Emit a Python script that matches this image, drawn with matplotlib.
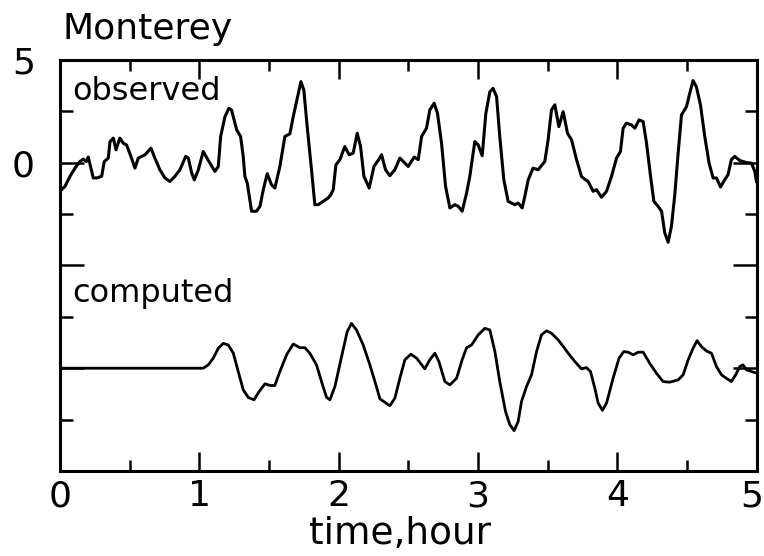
import matplotlib.pyplot as plt
from matplotlib.ticker import MultipleLocator
from matplotlib.transforms import ScaledTranslation

# observed record (time in hours, level)
obs_t = [0.0, 0.036, 0.072, 0.108, 0.143, 0.167, 0.19, 0.203, 0.239, 0.263, 0.299,
         0.318, 0.347, 0.359, 0.383, 0.402, 0.43, 0.454, 0.478, 0.509, 0.538, 0.562,
         0.61, 0.653, 0.681, 0.717, 0.753, 0.789, 0.825, 0.861, 0.902, 0.921, 0.945,
         0.964, 0.993, 1.028, 1.069, 1.112, 1.136, 1.153, 1.184, 1.212, 1.231, 1.268,
         1.296, 1.315, 1.327, 1.344, 1.375, 1.411, 1.435, 1.459, 1.487, 1.518, 1.542,
         1.578, 1.614, 1.65, 1.674, 1.705, 1.729, 1.75, 1.774, 1.805, 1.829, 1.853,
         1.889, 1.925, 1.944, 1.961, 1.98, 2.009, 2.044, 2.075, 2.104, 2.133, 2.157,
         2.181, 2.219, 2.253, 2.283, 2.308, 2.336, 2.367, 2.403, 2.439, 2.487, 2.499,
         2.542, 2.571, 2.595, 2.63, 2.654, 2.685, 2.709, 2.738, 2.767, 2.798, 2.834,
         2.858, 2.886, 2.918, 2.941, 2.977, 3.001, 3.03, 3.056, 3.085, 3.108, 3.133,
         3.156, 3.185, 3.216, 3.264, 3.288, 3.317, 3.341, 3.36, 3.395, 3.431, 3.479,
         3.503, 3.527, 3.551, 3.58, 3.611, 3.642, 3.671, 3.707, 3.742, 3.754, 3.79,
         3.826, 3.85, 3.886, 3.922, 3.958, 3.994, 4.022, 4.041, 4.065, 4.101, 4.125,
         4.156, 4.185, 4.209, 4.238, 4.262, 4.292, 4.317, 4.34, 4.364, 4.388, 4.412,
         4.436, 4.46, 4.496, 4.519, 4.543, 4.567, 4.596, 4.627, 4.658, 4.687, 4.711,
         4.74, 4.77, 4.794, 4.818, 4.842, 4.878, 4.926, 4.962, 4.986, 4.998]
obs_v = [-1.39, -1.15, -0.66, -0.26, 0.06, 0.18, 0.06, 0.28, -0.74, -0.74, -0.66,
         0.06, 0.23, 1.03, 1.2, 0.63, 1.2, 0.95, 0.87, 0.31, -0.26, 0.23,
         0.39, 0.71, 0.23, -0.34, -0.74, -0.91, -0.66, -0.34, 0.31, 0.23, -0.5,
         -0.83, -0.34, 0.55, 0.06, -0.42, -0.18, 1.28, 2.25, 2.65, 2.57, 1.6,
         1.28, 0.31, -0.66, -0.99, -2.36, -2.36, -2.12, -1.31, -0.53, -1.07, -1.23,
         -0.18, 1.28, 1.41, 2.25, 3.22, 3.95, 3.54, 1.76, -0.34, -2.04, -2.04,
         -1.88, -1.71, -1.55, -1.31, -0.1, 0.15, 0.79, 0.39, 0.47, 1.44, 0.79,
         -0.66, -1.23, -0.18, 0.11, 0.39, -0.34, -0.63, -0.34, 0.23, -0.1, -0.18,
         0.28, 0.15, 1.28, 1.68, 2.57, 2.9, 2.41, 0.96, -1.15, -2.2, -2.04,
         -2.12, -2.36, -1.47, -0.66, 1.03, 0.87, 0.34, 2.41, 3.46, 3.62, 3.22,
         1.28, -0.83, -1.88, -2.04, -1.96, -2.2, -1.47, -0.83, -0.26, -0.34, 0.06,
         1.12, 2.57, 2.82, 1.76, 2.49, 1.44, 1.12, 0.15, -0.66, -0.74, -0.91,
         -1.39, -1.31, -1.68, -1.39, -0.66, 0.23, 0.55, 1.68, 1.93, 1.84, 1.68,
         2.09, 2.0, 0.96, -0.66, -1.88, -2.12, -2.36, -3.41, -3.87, -3.09, -1.55,
         0.47, 2.33, 2.73, 3.38, 4.0, 3.7, 2.82, 1.28, -0.02, -0.74, -0.74,
         -1.18, -0.83, -0.58, 0.15, 0.31, 0.11, 0.01, -0.02, -0.42, -0.91]

# computed record
com_t = [0.0, 1.028, 1.064, 1.1, 1.136, 1.172, 1.208, 1.244, 1.279, 1.315, 1.351,
         1.392, 1.43, 1.471, 1.507, 1.542, 1.578, 1.626, 1.674, 1.722, 1.757, 1.793,
         1.841, 1.884, 1.913, 1.937, 1.973, 2.021, 2.061, 2.092, 2.128, 2.176, 2.224,
         2.26, 2.296, 2.367, 2.403, 2.439, 2.475, 2.518, 2.559, 2.618, 2.654, 2.69,
         2.719, 2.762, 2.798, 2.846, 2.886, 2.918, 2.954, 3.001, 3.049, 3.085, 3.121,
         3.156, 3.197, 3.228, 3.259, 3.288, 3.312, 3.348, 3.384, 3.42, 3.455, 3.491,
         3.527, 3.575, 3.618, 3.647, 3.694, 3.742, 3.778, 3.807, 3.838, 3.862, 3.893,
         3.922, 3.969, 4.012, 4.046, 4.077, 4.113, 4.149, 4.185, 4.232, 4.28, 4.328,
         4.376, 4.436, 4.472, 4.508, 4.543, 4.572, 4.603, 4.639, 4.675, 4.711, 4.747,
         4.782, 4.818, 4.849, 4.878, 4.902, 4.926, 4.962, 4.998]
com_v = [0.0, 0.0, 0.16, 0.49, 0.97, 1.21, 1.13, 0.73, -0.16, -1.05, -1.42,
         -1.54, -1.13, -0.76, -0.84, -0.84, -0.16, 0.65, 1.18, 1.0, 1.0, 0.73,
         0.16, -0.81, -1.42, -1.54, -0.89, 0.57, 1.78, 2.18, 1.86, 1.13, 0.16,
         -0.65, -1.49, -1.83, -1.46, -0.49, 0.41, 0.68, 0.49, -0.03, 0.41, 0.73,
         0.33, -0.65, -0.81, -0.49, 0.41, 1.0, 1.13, 1.62, 1.94, 1.86, 0.81,
         -0.65, -2.1, -2.75, -3.04, -2.59, -1.62, -0.89, -0.32, 0.81, 1.62, 1.82,
         1.7, 1.38, 1.0, 0.73, 0.33, -0.03, 0.03, -0.16, -0.97, -1.7, -2.05,
         -1.7, -0.49, 0.49, 0.81, 0.78, 0.65, 0.78, 0.78, 0.24, -0.24, -0.65,
         -0.68, -0.57, -0.32, 0.41, 0.97, 1.34, 1.05, 0.84, 0.73, 0.08, -0.32,
         -0.49, -0.65, -0.32, 0.08, 0.16, -0.08, -0.16, -0.24]
com_offset = -10

xticks = [0, 1, 2, 3, 4, 5]
yticks = [5, 0, -5, -10, -15]
ytick_labels = ['5', '0', '', '', '']

fig = plt.figure(figsize=(7.64, 5.56), dpi=100)
ax = fig.add_axes([0.0785, 0.153, 0.912, 0.739])

ax.plot(obs_t, obs_v, color='black', lw=2.2)
ax.plot(com_t, [v + com_offset for v in com_v], color='black', lw=2.0)

ax.set_xlim(0, 5)
ax.set_ylim(-15, 5)
ax.set_xticks(xticks)
ax.set_yticks(yticks)
ax.set_yticklabels(ytick_labels)
ax.xaxis.set_minor_locator(MultipleLocator(0.5))
ax.yaxis.set_minor_locator(MultipleLocator(2.5))

for s in ax.spines.values():
    s.set_linewidth(2.2)

ax.tick_params(which='both', direction='in', top=True, right=True, width=1.8,
               labelsize=26)
ax.tick_params(axis='x', which='major', length=14, pad=6)
ax.tick_params(axis='x', which='minor', length=8)
ax.tick_params(axis='y', which='major', length=17, pad=18)
ax.tick_params(axis='y', which='minor', length=9)

# nudge the last x label so it stays inside the figure
last = ax.xaxis.get_major_ticks()[-1].label1
last.set_transform(last.get_transform() + ScaledTranslation(-5 / 100, 0, fig.dpi_scale_trans))

ax.set_xlabel('time,hour', fontsize=27)
ax.xaxis.set_label_coords(0.488, -0.11)

ax.text(0.09, 3.05, 'observed', fontsize=23, va='baseline')
ax.text(0.09, -6.8, 'computed', fontsize=23, va='baseline')
fig.text(62 / 764, 1 - 39 / 556, 'Monterey', fontsize=26, va='baseline')

fig.savefig('out.png', dpi=100)
